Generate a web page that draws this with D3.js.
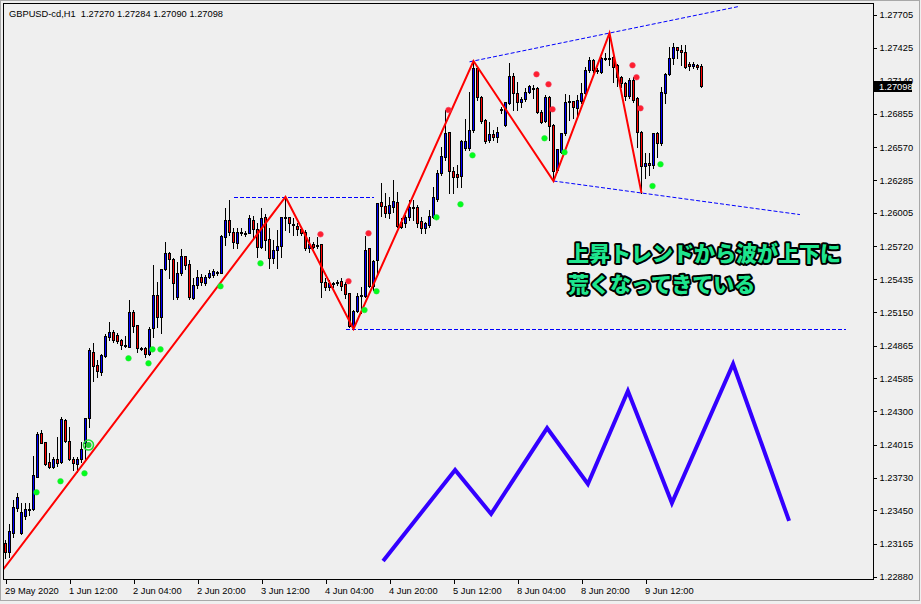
<!DOCTYPE html>
<html><head><meta charset="utf-8">
<script src="https://cdn.jsdelivr.net/npm/d3@7"></script>
<style>html,body{margin:0;padding:0;background:#efefef;overflow:hidden}</style>
</head><body><svg id="c" width="921" height="604"></svg>
<script>
const symbolTitle = "GBPUSD-cd,H1  1.27270 1.27284 1.27090 1.27098";
const open = [1.23170,1.23092,1.23255,1.23470,1.23255,1.23402,1.23453,1.23462,1.23737,1.24114,
1.24037,1.23865,1.23822,1.23891,1.23865,1.24226,1.24046,1.23891,1.23848,1.23891,
1.24029,1.24243,1.24810,1.24699,1.24638,1.24776,1.24939,1.24982,1.24956,1.24913,
1.24870,1.24853,1.25154,1.25042,1.24845,1.24845,1.24793,1.25016,1.25300,1.25111,
1.25523,1.25661,1.25609,1.25283,1.25489,1.25635,1.25566,1.25274,1.25386,1.25455,
1.25403,1.25455,1.25472,1.25489,1.25489,1.25798,1.25944,1.25841,1.25747,1.25832,
1.25832,1.25832,1.25944,1.25867,1.25712,1.25970,1.25781,1.25618,1.25686,1.25721,
1.25961,1.25970,1.25910,1.25893,1.25867,1.25841,1.25704,1.25738,1.25729,1.25738,
1.25412,1.25369,1.25394,1.25403,1.25420,1.25394,1.25317,1.25034,1.25162,1.25300,
1.25291,1.25704,1.25377,1.25601,1.26099,1.26064,1.26004,1.26056,1.26099,1.25927,
1.25918,1.25970,1.26047,1.26056,1.25936,1.25875,1.25901,1.25970,1.26125,1.26348,
1.26485,1.26700,1.26365,1.26339,1.26322,1.26563,1.26563,1.26717,1.27250,1.27001,
1.26803,1.26631,1.26683,1.26657,1.26898,1.26760,1.26949,1.27181,1.27035,1.26958,
1.26984,1.27044,1.27078,1.27078,1.26872,1.26795,1.27001,1.26760,1.26374,1.26528,
1.26691,1.26958,1.26966,1.26906,1.26966,1.27035,1.27233,1.27319,1.27233,1.27215,
1.27336,1.27336,1.27344,1.27276,1.27173,1.27121,1.27009,1.27147,1.26992,1.26700,
1.26408,1.26434,1.26417,1.26691,1.26606,1.27035,1.27198,1.27336,1.27430,1.27404,
1.27387,1.27284,1.27267,1.27276,1.27270];
const high = [1.23195,1.23333,1.23539,1.23599,1.23513,1.23513,1.23513,1.23917,1.24123,1.24140,
1.24037,1.23943,1.23908,1.24080,1.24252,1.24235,1.24166,1.23908,1.23908,1.24037,
1.24243,1.24845,1.24888,1.24742,1.24793,1.24965,1.25068,1.24999,1.24973,1.24922,
1.24948,1.25257,1.25171,1.25042,1.24853,1.24853,1.25025,1.25558,1.25412,1.25523,
1.25755,1.25669,1.25618,1.25583,1.25695,1.25635,1.25601,1.25446,1.25515,1.25480,
1.25472,1.25515,1.25523,1.25506,1.25815,1.26047,1.26116,1.25875,1.25875,1.25875,
1.25850,1.25987,1.25979,1.25918,1.26047,1.25996,1.25875,1.25772,1.25858,1.25970,
1.26142,1.25970,1.25961,1.25918,1.25884,1.25858,1.25798,1.25755,1.25798,1.25738,
1.25446,1.25429,1.25412,1.25429,1.25446,1.25412,1.25317,1.25171,1.25317,1.25369,
1.25807,1.25704,1.25601,1.26090,1.26262,1.26176,1.26142,1.26288,1.26185,1.25961,
1.25987,1.26116,1.26116,1.26073,1.25970,1.25927,1.26030,1.26228,1.26374,1.26571,
1.26889,1.26700,1.26399,1.26417,1.26631,1.26812,1.27044,1.27310,1.27258,1.27009,
1.26812,1.26786,1.26717,1.26743,1.26915,1.26958,1.27293,1.27207,1.27130,1.27001,
1.27078,1.27104,1.27104,1.27087,1.26889,1.27018,1.27009,1.26769,1.26554,1.26691,
1.27026,1.27018,1.26966,1.27018,1.27121,1.27258,1.27344,1.27327,1.27250,1.27344,
1.27379,1.27550,1.27361,1.27284,1.27181,1.27130,1.27164,1.27173,1.27001,1.26709,
1.26520,1.26520,1.26691,1.26700,1.27087,1.27207,1.27430,1.27465,1.27430,1.27447,
1.27447,1.27301,1.27301,1.27284,1.27284];
const low = [1.23041,1.23049,1.23221,1.23444,1.23247,1.23376,1.23410,1.23453,1.23737,1.24029,
1.23840,1.23814,1.23814,1.23831,1.23857,1.24037,1.23883,1.23797,1.23779,1.23865,
1.23883,1.24166,1.24561,1.24596,1.24613,1.24767,1.24913,1.24896,1.24888,1.24836,
1.24853,1.24853,1.24982,1.24810,1.24827,1.24767,1.24784,1.24939,1.25025,1.24973,
1.25515,1.25446,1.25266,1.25266,1.25472,1.25523,1.25266,1.25266,1.25360,1.25386,
1.25386,1.25446,1.25455,1.25472,1.25489,1.25729,1.25815,1.25704,1.25704,1.25815,
1.25807,1.25832,1.25790,1.25626,1.25704,1.25686,1.25532,1.25575,1.25532,1.25626,
1.25858,1.25841,1.25815,1.25815,1.25815,1.25686,1.25669,1.25704,1.25704,1.25283,
1.25343,1.25343,1.25369,1.25386,1.25343,1.25274,1.25025,1.25008,1.25154,1.25145,
1.25283,1.25369,1.25343,1.25489,1.25979,1.25970,1.25961,1.26013,1.25884,1.25875,
1.25884,1.25944,1.25944,1.25884,1.25832,1.25832,1.25884,1.25961,1.26107,1.26331,
1.26460,1.26176,1.26176,1.26228,1.26228,1.26545,1.26545,1.26700,1.26975,1.26777,
1.26606,1.26614,1.26631,1.26614,1.26863,1.26752,1.26941,1.26889,1.26889,1.26915,
1.26966,1.27035,1.26992,1.26863,1.26777,1.26786,1.26631,1.26279,1.26356,1.26520,
1.26674,1.26803,1.26820,1.26846,1.26949,1.27018,1.27215,1.27215,1.27207,1.27207,
1.27319,1.27276,1.27130,1.27095,1.27087,1.26975,1.26992,1.26958,1.26571,1.26176,
1.26305,1.26331,1.26391,1.26485,1.26588,1.26949,1.27190,1.27284,1.27336,1.27276,
1.27250,1.27233,1.27250,1.27241,1.27090];
const close = [1.23092,1.23273,1.23479,1.23565,1.23436,1.23462,1.23462,1.23754,1.24106,1.24029,
1.23848,1.23822,1.23891,1.23857,1.24235,1.24046,1.23891,1.23857,1.23891,1.23977,
1.24243,1.24827,1.24690,1.24647,1.24784,1.24948,1.24982,1.24913,1.24905,1.24870,
1.24862,1.25154,1.25034,1.24845,1.24836,1.24793,1.25008,1.25300,1.25111,1.25523,
1.25661,1.25609,1.25403,1.25489,1.25635,1.25558,1.25283,1.25386,1.25455,1.25412,
1.25455,1.25489,1.25506,1.25497,1.25807,1.25944,1.25841,1.25755,1.25841,1.25841,
1.25824,1.25961,1.25867,1.25712,1.25961,1.25772,1.25618,1.25686,1.25721,1.25970,
1.25970,1.25918,1.25901,1.25867,1.25832,1.25704,1.25738,1.25712,1.25721,1.25412,
1.25369,1.25403,1.25403,1.25412,1.25377,1.25308,1.25034,1.25162,1.25291,1.25295,
1.25686,1.25377,1.25592,1.26090,1.26064,1.26004,1.26073,1.26107,1.25893,1.25884,
1.25970,1.26056,1.26056,1.25918,1.25875,1.25918,1.25979,1.26142,1.26348,1.26494,
1.26691,1.26365,1.26314,1.26314,1.26623,1.26623,1.26717,1.27250,1.27001,1.26795,
1.26623,1.26683,1.26657,1.26700,1.26889,1.26958,1.27181,1.27035,1.26958,1.26984,
1.27044,1.27095,1.27069,1.26872,1.26786,1.27001,1.26752,1.26365,1.26554,1.26691,
1.26958,1.26966,1.26915,1.26975,1.27035,1.27233,1.27319,1.27233,1.27224,1.27336,
1.27327,1.27327,1.27258,1.27173,1.27121,1.27009,1.27147,1.26975,1.26700,1.26408,
1.26434,1.26417,1.26691,1.26606,1.27044,1.27198,1.27336,1.27430,1.27404,1.27387,
1.27258,1.27267,1.27284,1.27258,1.27098];

const priceTicks = [1.27705,1.27425,1.27140,1.26855,1.26570,1.26285,1.26005,1.25720,1.25435,
  1.25150,1.24865,1.24585,1.24300,1.24015,1.23730,1.23450,1.23165,1.22880];
const timeTickBars = [0,16,32,48,64,80,96,112,128,144,160];
const timeTickLabels = ["29 May 2020","1 Jun 12:00","2 Jun 04:00","2 Jun 20:00","3 Jun 12:00",
  "4 Jun 04:00","4 Jun 20:00","5 Jun 12:00","8 Jun 04:00","8 Jun 20:00","9 Jun 12:00"];

// ZigZag indicator (bar index, price)
const zigzagBars = [-1,70,87,117,137,151,159];
const zigzagPrices = [1.22923,1.26142,1.25008,1.27310,1.26279,1.27550,1.26176];
// horizontal dotted levels
const levelFrom = [57,85];
const levelTo = [92,210];
const levelPrice = [1.26142,1.25008];
// channel trendlines: two anchors each, drawn between from/to
const chanBar1 = [117,137], chanPrice1 = [1.27310,1.26279];
const chanBar2 = [151,159], chanPrice2 = [1.27550,1.26176];
const chanFrom = [116,137], chanTo = [183.6,198.6];
// fractal-like dots
const greenBars = [8,14,20,31,36,37,39,54,64,90,93,108,114,117,135,140,162,164];
const greenPrices = [1.23605,1.23700,1.23768,1.24756,1.24713,1.24833,1.24833,1.25375,1.25572,
  1.25171,1.25332,1.25967,1.26079,1.26500,1.26646,1.26526,1.26236,1.26423];
const ringBar = [21], ringPrice = [1.24011];
const redBars = [79,86,91,111,133,136,137,157,158,159];
const redPrices = [1.25821,1.25418,1.25830,1.26889,1.27196,1.27110,1.26895,1.27273,1.27170,1.26904];
// hand-drawn blue wave
const waveBars = [94.4,112.4,121.4,135.4,145.6,155.6,166.6,181.9,195.9];
const wavePrices = [1.23015,1.23797,1.23419,1.24157,1.23676,1.24475,1.23513,1.24707,1.23359];
const noteLines = ["上昇トレンドから波が上下に","荒くなってきている"];

const W = 921, H = 604;
const svg = d3.select("#c");
const N = open.length;
const x = d3.scaleLinear().domain([0, N - 1]).range([5.5, 5.5 + 4 * (N - 1)]);
const y = d3.scaleLinear().domain([1.22880, 1.27705]).range([576.7, 15]);
const plot = {l: 3.5, t: 3.5, r: 873.5, b: 579.5};

svg.append("rect").attr("width", W).attr("height", H).attr("fill", "#efefef");
svg.append("rect").attr("x", 0.5).attr("y", 0.5).attr("width", 919).attr("height", 600)
  .attr("fill", "none").attr("stroke", "#a8a8a8");
svg.append("defs").append("clipPath").attr("id", "pc").append("rect")
  .attr("x", plot.l + 0.5).attr("y", plot.t + 0.5).attr("width", plot.r - plot.l - 1).attr("height", plot.b - plot.t - 1);

const g = svg.append("g").attr("clip-path", "url(#pc)");

// candles
const bars = d3.range(N).map(i => ({i, o: open[i], h: high[i], l: low[i], c: close[i]}));
const bodyTop = d => Math.round(y(Math.max(d.o, d.c)));
const bodyBot = d => Math.round(y(Math.min(d.o, d.c)));
const cg = g.append("g").attr("shape-rendering", "crispEdges");
cg.selectAll("rect.wick").data(bars).join("rect").attr("class", "wick")
  .attr("x", d => x(d.i) - 0.5).attr("width", 1)
  .attr("y", d => Math.round(y(Math.max(d.h, d.o, d.c))))
  .attr("height", d => Math.round(y(Math.min(d.l, d.o, d.c))) - Math.round(y(Math.max(d.h, d.o, d.c))) + 1)
  .attr("fill", "#000");
cg.selectAll("rect.body").data(bars).join("rect").attr("class", "body")
  .attr("x", d => x(d.i) - 1.5).attr("width", 3)
  .attr("y", bodyTop)
  .attr("height", d => Math.max(1, bodyBot(d) - bodyTop(d) + 1))
  .attr("fill", "#000");
cg.selectAll("rect.fill").data(bars.filter(d => bodyBot(d) - bodyTop(d) >= 2))
  .join("rect").attr("class", "fill")
  .attr("x", d => x(d.i) - 0.5).attr("width", 1)
  .attr("y", d => bodyTop(d) + 1)
  .attr("height", d => bodyBot(d) - bodyTop(d) - 1)
  .attr("fill", d => d.c >= d.o ? "#0000ff" : "#ff0000");

// dotted levels
levelPrice.forEach((p, k) => {
  g.append("line").attr("x1", x(levelFrom[k])).attr("x2", x(levelTo[k]))
    .attr("y1", Math.round(y(p)) + 0.5).attr("y2", Math.round(y(p)) + 0.5)
    .attr("stroke", "#0000ff").attr("stroke-width", 1).attr("stroke-dasharray", "4,2")
    .attr("shape-rendering", "crispEdges");
});
chanFrom.forEach((f, k) => {
  const slope = (chanPrice2[k] - chanPrice1[k]) / (chanBar2[k] - chanBar1[k]);
  const pAt = b => chanPrice1[k] + slope * (b - chanBar1[k]);
  g.append("line").attr("x1", x(f)).attr("x2", x(chanTo[k]))
    .attr("y1", y(pAt(f))).attr("y2", y(pAt(chanTo[k])))
    .attr("stroke", "#0000ff").attr("stroke-width", 1).attr("stroke-dasharray", "4,2");
});

// zigzag
g.append("path").datum(zigzagBars.map((b, k) => [b, zigzagPrices[k]]))
  .attr("d", d3.line().x(d => x(d[0])).y(d => y(d[1])))
  .attr("fill", "none").attr("stroke", "#ff0000").attr("stroke-width", 2);

// dots
g.selectAll("circle.gd").data(greenBars.map((b, k) => [b, greenPrices[k]])).join("circle")
  .attr("class", "gd").attr("cx", d => x(d[0]) - 1).attr("cy", d => y(d[1])).attr("r", 2.8)
  .attr("fill", "#00ff1a").attr("stroke", "#33dd44").attr("stroke-width", 0.6);
g.selectAll("circle.rd").data(redBars.map((b, k) => [b, redPrices[k]])).join("circle")
  .attr("class", "rd").attr("cx", d => x(d[0]) - 1).attr("cy", d => y(d[1])).attr("r", 2.8)
  .attr("fill", "#ff1e2e").attr("stroke", "#f04060").attr("stroke-width", 0.6);
ringBar.forEach((b, k) => {
  g.append("circle").attr("cx", x(b) - 1).attr("cy", y(ringPrice[k])).attr("r", 5)
    .attr("fill", "none").attr("stroke", "#22dd33").attr("stroke-width", 1.6);
  g.append("circle").attr("cx", x(b) - 1).attr("cy", y(ringPrice[k])).attr("r", 3)
    .attr("fill", "#22cc33");
});

// blue wave
g.append("path").datum(waveBars.map((b, k) => [b, wavePrices[k]]))
  .attr("d", d3.line().x(d => x(d[0])).y(d => y(d[1])))
  .attr("fill", "none").attr("stroke", "#3300ff").attr("stroke-width", 4)
  .attr("stroke-linejoin", "miter");

// note text
const note = svg.append("g");
noteLines.forEach((t, k) => {
  note.append("text").attr("x", 568).attr("y", 261 + k * 31).text(t)
    .attr("font-family", "'Noto Sans CJK JP', sans-serif").attr("font-weight", 900)
    .attr("font-size", 21).attr("fill", "#1ee68e").attr("stroke", "#000")
    .attr("stroke-width", 4).attr("stroke-linejoin", "round").attr("paint-order", "stroke");
});

// frame
svg.append("rect").attr("x", plot.l).attr("y", plot.t).attr("width", plot.r - plot.l).attr("height", plot.b - plot.t)
  .attr("fill", "none").attr("stroke", "#000").attr("shape-rendering", "crispEdges");

const axisFont = "'Liberation Sans', Arial, sans-serif";
// right axis
const ya = d3.axisRight(y).tickValues(priceTicks).tickSize(3).tickPadding(3).tickFormat(d3.format(".5f"));
const yg = svg.append("g").attr("transform", `translate(${plot.r},0)`).call(ya);
yg.select(".domain").remove();
yg.selectAll("line").attr("stroke", "#000").attr("shape-rendering", "crispEdges");
yg.selectAll("text").attr("font-family", axisFont).attr("font-size", 9.3).attr("fill", "#000");

// bottom axis
const xa = d3.axisBottom(x).tickValues(timeTickBars).tickSize(4).tickPadding(4)
  .tickFormat((d, k) => timeTickLabels[k]);
const xg = svg.append("g").attr("transform", `translate(0,${plot.b})`).call(xa);
xg.select(".domain").remove();
xg.selectAll("line").attr("stroke", "#000").attr("shape-rendering", "crispEdges");
xg.selectAll("text").attr("font-family", axisFont).attr("font-size", 9.3).attr("fill", "#000")
  .attr("text-anchor", "start").attr("dx", -1);

// current price tag
const last = close[N - 1];
svg.append("rect").attr("x", 874).attr("y", Math.round(y(last)) - 5).attr("width", 38).attr("height", 11)
  .attr("fill", "#000");
svg.append("text").attr("x", 879).attr("y", y(last) + 1).attr("dy", "0.35em")
  .attr("font-family", axisFont).attr("font-size", 9.3).attr("fill", "#fff").text(d3.format(".5f")(last));

// title
svg.append("text").attr("x", 9).attr("y", 17).attr("font-family", axisFont).attr("font-size", 9.3)
  .attr("fill", "#000").attr("xml:space", "preserve").style("white-space", "pre").text(symbolTitle);
</script></body></html>
